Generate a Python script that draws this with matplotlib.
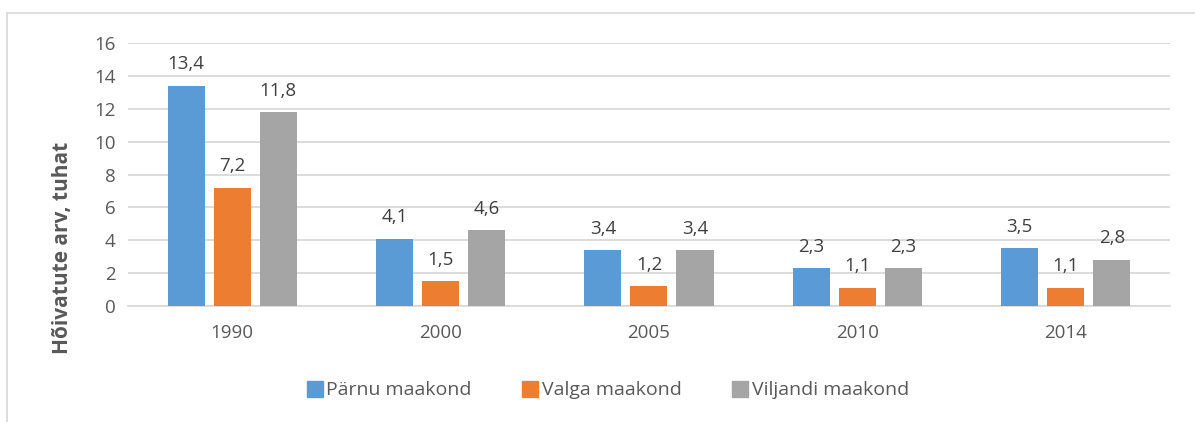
import matplotlib.pyplot as plt
import numpy as np
from matplotlib.lines import Line2D

years = ["1990", "2000", "2005", "2010", "2014"]
parnu = [13.4, 4.1, 3.4, 2.3, 3.5]
valga = [7.2, 1.5, 1.2, 1.1, 1.1]
viljandi = [11.8, 4.6, 3.4, 2.3, 2.8]
series_names = ["Pärnu maakond", "Valga maakond", "Viljandi maakond"]
colors = ["#5B9BD5", "#ED7D31", "#A5A5A5"]

plt.rcParams['font.family'] = ['Open Sans', 'DejaVu Sans']
text_col = "#595959"

fig = plt.figure(figsize=(11.95, 4.22), dpi=100)
ax = fig.add_axes([0.1071, 0.2749, 0.8719, 0.6231])

x = np.arange(len(years))
w = 0.178
step = 0.221
for i, (vals, name, c) in enumerate(zip([parnu, valga, viljandi], series_names, colors)):
    bars = ax.bar(x + (i - 1) * step, vals, width=w, color=c, label=name, zorder=3)
    for b, v in zip(bars, vals):
        ax.annotate(f"{v:.1f}".replace(".", ","), (b.get_x() + b.get_width() / 2, v),
                    xytext=(0, 9), textcoords="offset points", ha="center", va="bottom",
                    fontsize=13.5, color="#404040")

ax.set_xlim(-0.5, len(years) - 0.5)
ax.set_ylim(0, 16)
ax.set_yticks(range(0, 17, 2))
ax.set_xticks(x)
ax.set_xticklabels(years)
ax.tick_params(axis="both", length=0, labelsize=13.5, colors=text_col)
ax.tick_params(axis="x", pad=13)
ax.tick_params(axis="y", pad=9)
ax.grid(axis="y", color="#D9D9D9", linewidth=1.3, zorder=0)
for s in ["top", "right", "left"]:
    ax.spines[s].set_visible(False)
ax.spines["bottom"].set_color("#D9D9D9")
ax.spines["bottom"].set_linewidth(1.3)

ax.set_ylabel("Hõivatute arv, tuhat", fontsize=15, fontweight="bold", color=text_col)
ax.yaxis.set_label_coords(-0.053, 0.22)

handles = [Line2D([], [], marker="s", linestyle="none", markersize=11, color=c) for c in colors]
fig.legend(handles, series_names, loc="center", bbox_to_anchor=(0.508, 0.075), ncol=3,
           frameon=False, fontsize=14, labelcolor=text_col, handletextpad=0.1,
           columnspacing=2.5, handlelength=1.0)

# chart border (only top and left visible in the crop)
fig.add_artist(Line2D([0.006, 1.0], [0.969, 0.969], color="#D9D9D9", linewidth=1.2))
fig.add_artist(Line2D([0.006, 0.006], [0.0, 0.969], color="#D9D9D9", linewidth=1.2))

fig.savefig("out.png", dpi=100)
